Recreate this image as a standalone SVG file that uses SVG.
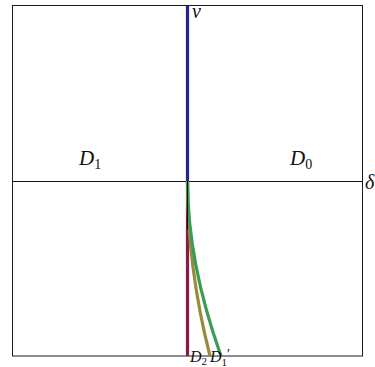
<svg xmlns="http://www.w3.org/2000/svg" width="375" height="367" viewBox="0 0 375 367">
<style>
.frame{fill:none;stroke:#1a1a1a;stroke-width:1}
.axis{stroke:#111;stroke-width:1;fill:none}
.lbl{font-family:"Liberation Serif","DejaVu Serif",serif;font-style:italic;fill:#111}
.sub{font-style:normal}
.curve{fill:none;stroke-width:3.2;stroke-linecap:butt}
</style>
<rect width="375" height="367" fill="#fff"/>
<rect class="frame" x="12.5" y="5.5" width="350" height="350.5"/>
<g id="connectors">
<line class="axis" x1="12" y1="181.5" x2="362" y2="181.5"/>
<line class="curve" x1="187.5" y1="6" x2="187.5" y2="181" stroke="#24248a"/>
<line class="curve" x1="187.5" y1="181" x2="187.5" y2="356" stroke="#8a1848"/>
<path class="curve" d="M187.5,181 Q187.5,268 210,356" stroke="#9a8a3c"/>
<path class="curve" d="M187.5,181 Q187.5,262 221,356" stroke="#3a9c55"/>
<line class="axis" x1="187.5" y1="181" x2="187.5" y2="230" stroke="#222" stroke-width="0.6"/>
</g>
<g id="nu"><text class="lbl" x="192" y="18" font-size="20">ν</text></g>
<g id="D1"><text class="lbl" x="79" y="165" font-size="21">D<tspan class="sub" font-size="14" dy="4">1</tspan></text></g>
<g id="D0"><text class="lbl" x="290" y="165" font-size="21">D<tspan class="sub" font-size="14" dy="4">0</tspan></text></g>
<g id="delta"><text class="lbl" x="365" y="189" font-size="20">δ</text></g>
<g id="D2"><text class="lbl" x="190" y="362" font-size="16">D<tspan class="sub" font-size="11" dy="3">2</tspan></text></g>
<g id="D1p"><text class="lbl" x="210" y="362" font-size="16">D</text><text class="lbl sub" x="221.5" y="366" font-size="11">1</text><text class="lbl sub" x="227" y="359" font-size="14">′</text></g>
</svg>
